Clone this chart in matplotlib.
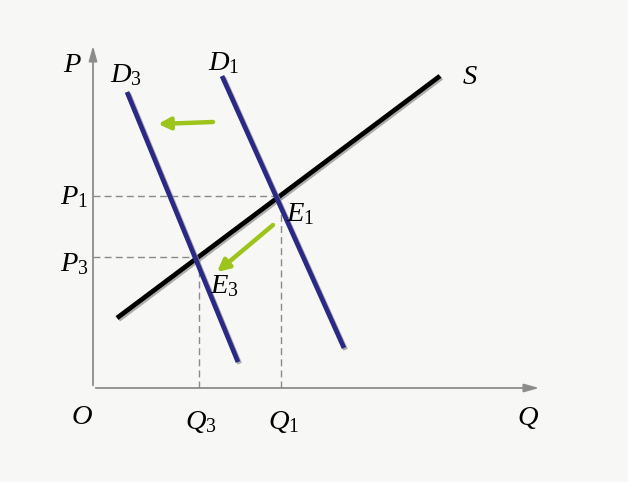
import matplotlib
matplotlib.use("Agg")
import matplotlib.pyplot as plt
import matplotlib.patheffects as pe

plt.rcParams['mathtext.fontset'] = 'custom'
plt.rcParams['mathtext.it'] = 'Liberation Serif:italic'
plt.rcParams['mathtext.rm'] = 'Liberation Serif'
plt.rcParams['font.family'] = 'Liberation Serif'

# curves (Q, P) in diagram units, origin at O
s_q = [24, 347]
s_p = [70, 312]
d1_q = [129, 251]
d1_p = [312, 40]
d3_q = [34, 145]
d3_p = [296, 26]

# equilibria
q1, p1 = 188, 192
q3, p3 = 106, 131

# shift arrows (start, end)
arrow_shift = [(120, 266), (65, 264)]
arrow_move = [(180, 163), (124, 116)]

bg = '#f7f7f5'
fig = plt.figure(figsize=(6.28, 4.82), dpi=100, facecolor=bg)
ax = fig.add_axes([0, 0, 1, 1])
ax.set_facecolor(bg)
ax.set_xlim(-93, 535)
ax.set_ylim(-94, 388)
ax.axis('off')

# axes with arrows
axis_col = '#8c8c8c'
ax.annotate('', xy=(449, 0), xytext=(0, 0),
            arrowprops=dict(arrowstyle='-|>,head_length=0.9,head_width=0.25', color=axis_col, lw=1.3))
ax.annotate('', xy=(0, 345), xytext=(0, 0),
            arrowprops=dict(arrowstyle='-|>,head_length=0.9,head_width=0.25', color=axis_col, lw=1.3))

# dashed guides
dash = dict(color='#8a8a8a', lw=1.0, ls=(0, (5, 3)))
ax.plot([0, q1], [p1, p1], **dash)
ax.plot([q1, q1], [0, p1], **dash)
ax.plot([0, q3], [p3, p3], **dash)
ax.plot([q3, q3], [0, p3], **dash)

shadow = [pe.SimpleLineShadow(offset=(1.2, -1.2), shadow_color='#999999', alpha=0.8), pe.Normal()]

ax.plot(s_q, s_p, color='black', lw=3.4, solid_capstyle='butt', path_effects=shadow)
ax.plot(d1_q, d1_p, color='#2a2a86', lw=3.4, solid_capstyle='butt', path_effects=shadow)
ax.plot(d3_q, d3_p, color='#2a2a86', lw=3.4, solid_capstyle='butt', path_effects=shadow)

green = '#9dc41a'
for (st, en) in [arrow_shift, arrow_move]:
    ax.annotate('', xy=en, xytext=st,
                arrowprops=dict(arrowstyle='-|>,head_length=0.7,head_width=0.35', color=green, lw=3.2,
                                shrinkA=0, shrinkB=0),
                path_effects=[pe.withSimplePatchShadow(offset=(1, -1), shadow_rgbFace='#aaaaaa', alpha=0.6)])

fs = 20.5
labels = [
    (-21, 323, r'$P$'),
    (33, 313, r'$D_{\mathrm{3}}$'),
    (131, 325, r'$D_{\mathrm{1}}$'),
    (377, 311, r'$S$'),
    (-19, 191, r'$P_{\mathrm{1}}$'),
    (-19, 124, r'$P_{\mathrm{3}}$'),
    (207, 174, r'$E_{\mathrm{1}}$'),
    (131, 102, r'$E_{\mathrm{3}}$'),
    (-11, -30, r'$O$'),
    (108, -34, r'$Q_{\mathrm{3}}$'),
    (191, -34, r'$Q_{\mathrm{1}}$'),
    (435, -30, r'$Q$'),
]
for x, y, t in labels:
    ax.text(x, y, t, fontsize=fs, ha='center', va='center', color='black')

fig.savefig('out.png', dpi=100, facecolor=bg)
